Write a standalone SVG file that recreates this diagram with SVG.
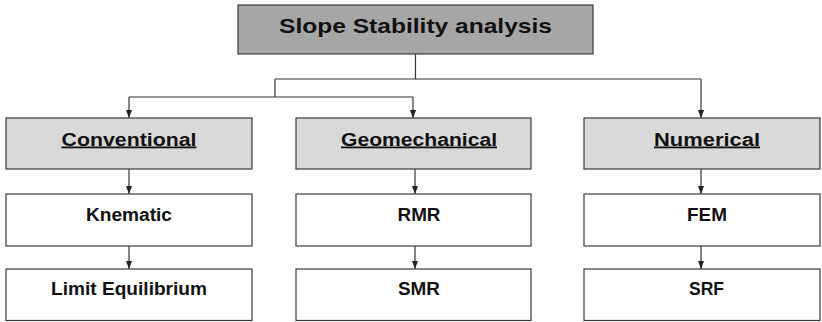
<svg xmlns="http://www.w3.org/2000/svg" width="822" height="322" viewBox="0 0 822 322">
<style>
.box{stroke:#3a3a3a;stroke-width:1.2}
.root{fill:#a6a6a6}
.cat{fill:#d9d9d9}
.leaf{fill:#ffffff}
text{font-family:"Liberation Sans",Arial,sans-serif;font-weight:bold;fill:#111;text-anchor:middle}
.t1{font-size:21px}
.t2{font-size:18px}
.u{text-decoration:underline}
.c{stroke:#333;stroke-width:1.2;fill:none}
</style>
<defs>
<marker id="ah" viewBox="0 0 8 8" refX="8" refY="4" markerWidth="8" markerHeight="8" markerUnits="userSpaceOnUse" orient="auto">
<path d="M0,1 L8,4 L0,7 Z" fill="#222"/>
</marker>
</defs>
<g id="connectors">
<polyline class="c" points="415.5,54 415.5,79"/>
<polyline class="c" points="275,79 701,79"/>
<polyline class="c" points="275,79 275,97"/>
<polyline class="c" points="129,97 413,97"/>
<line class="c" x1="129" y1="97" x2="129" y2="118" marker-end="url(#ah)"/>
<line class="c" x1="413" y1="97" x2="413" y2="118" marker-end="url(#ah)"/>
<line class="c" x1="701" y1="79" x2="701" y2="118" marker-end="url(#ah)"/>
<line class="c" x1="129" y1="169" x2="129" y2="194" marker-end="url(#ah)"/>
<line class="c" x1="129" y1="246" x2="129" y2="269" marker-end="url(#ah)"/>
<line class="c" x1="415" y1="169" x2="415" y2="194" marker-end="url(#ah)"/>
<line class="c" x1="415" y1="246" x2="415" y2="269" marker-end="url(#ah)"/>
<line class="c" x1="701" y1="169" x2="701" y2="194" marker-end="url(#ah)"/>
<line class="c" x1="701" y1="246" x2="701" y2="269" marker-end="url(#ah)"/>
</g>
<g id="root">
<rect class="box root" x="238" y="5" width="355" height="49"/>
<text class="t1" x="415.5" y="33" textLength="273" lengthAdjust="spacingAndGlyphs">Slope Stability analysis</text>
</g>
<g id="conventional">
<rect class="box cat" x="6" y="118" width="246" height="51"/>
<text class="t2 u" x="129" y="145.5" textLength="135" lengthAdjust="spacingAndGlyphs">Conventional</text>
</g>
<g id="geomechanical">
<rect class="box cat" x="296" y="118" width="235" height="51"/>
<text class="t2 u" x="419" y="145.5" textLength="156" lengthAdjust="spacingAndGlyphs">Geomechanical</text>
</g>
<g id="numerical">
<rect class="box cat" x="584" y="118" width="236" height="51"/>
<text class="t2 u" x="707" y="145.5" textLength="106" lengthAdjust="spacingAndGlyphs">Numerical</text>
</g>
<g id="knematic">
<rect class="box leaf" x="6" y="194" width="246" height="52"/>
<text class="t2" x="129" y="221" textLength="86" lengthAdjust="spacingAndGlyphs">Knematic</text>
</g>
<g id="limit-equilibrium">
<rect class="box leaf" x="6" y="269" width="246" height="51.5"/>
<text class="t2" x="129" y="295" textLength="156" lengthAdjust="spacingAndGlyphs">Limit Equilibrium</text>
</g>
<g id="rmr">
<rect class="box leaf" x="296" y="194" width="235" height="52"/>
<text class="t2" x="419" y="221" textLength="43" lengthAdjust="spacingAndGlyphs">RMR</text>
</g>
<g id="smr">
<rect class="box leaf" x="296" y="269" width="235" height="51.5"/>
<text class="t2" x="419" y="295" textLength="42" lengthAdjust="spacingAndGlyphs">SMR</text>
</g>
<g id="fem">
<rect class="box leaf" x="584" y="194" width="236" height="52"/>
<text class="t2" x="707" y="221" textLength="40" lengthAdjust="spacingAndGlyphs">FEM</text>
</g>
<g id="srf">
<rect class="box leaf" x="584" y="269" width="236" height="51.5"/>
<text class="t2" x="706.5" y="295" textLength="35" lengthAdjust="spacingAndGlyphs">SRF</text>
</g>
</svg>
